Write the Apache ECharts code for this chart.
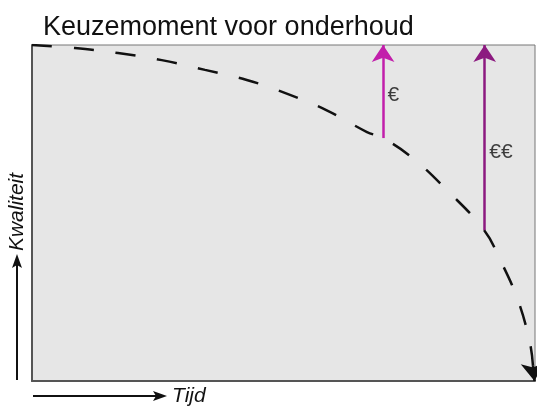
<!DOCTYPE html>
<html><head><meta charset="utf-8">
<script src="https://cdn.jsdelivr.net/npm/echarts@6/dist/echarts.min.js"></script>
<style>html,body{margin:0;padding:0;background:#fff}#c{width:537px;height:408px}</style>
</head><body><div id="c"></div>
<script>
var titleText = 'Keuzemoment voor onderhoud';
var xAxisName = 'Tijd';
var yAxisName = 'Kwaliteit';
// degradation curve (x = time, y = quality), 0..100
var curveX = [0, 8.5, 17.1, 25.8, 34.4, 42.7, 50.9, 58.8, 66.6, 69.8, 75.9, 82.5, 89.9, 93.0, 96.6, 99.0, 99.6];
var curveY = [100, 99.1, 97.6, 95.5, 92.6, 89.6, 85.4, 80.4, 74.1, 72.3, 66.1, 56.8, 44.9, 36.3, 24.1, 11.3, 4.5];
var curveEnd = [99.9, 0];
// maintenance moments: x position, curve value (start), label and label height
var momentX = [69.8, 90.0];
var momentY = [72.3, 44.9];
var momentLabelY = [85, 68];
var momentLabels = ['€', '€€'];
var momentColors = ['#c21fab', '#8c1a80'];

var chart = echarts.init(document.getElementById('c'));
var curveData = curveX.map(function (x, i) { return [x, curveY[i]]; });
var arrows = momentX.map(function (x, i) {
  return {
    coords: [[x, momentY[i]], [x, 100]],
    lineStyle: { color: momentColors[i], width: 2.5, opacity: 1 }
  };
});
chart.setOption({
  animation: false,
  title: {
    text: titleText, left: 38, top: 9,
    textStyle: { fontFamily: 'Liberation Sans', fontWeight: 'normal', fontSize: 27, color: '#111' }
  },
  grid: {
    left: 32, right: 2, top: 45, bottom: 27,
    show: true, backgroundColor: '#e6e6e6', borderColor: '#777', borderWidth: 1
  },
  xAxis: {
    type: 'value', min: 0, max: 100,
    axisLine: { show: true, lineStyle: { color: '#555', width: 2 } },
    axisTick: { show: false }, axisLabel: { show: false }, splitLine: { show: false }
  },
  yAxis: {
    type: 'value', min: 0, max: 100,
    axisLine: { show: true, lineStyle: { color: '#555', width: 2 } },
    axisTick: { show: false }, axisLabel: { show: false }, splitLine: { show: false }
  },
  series: [
    {
      type: 'line', data: curveData, smooth: 0.4, showSymbol: false,
      lineStyle: { color: '#111', width: 2.5, type: [20, 22] },
      z: 3
    },
    {
      type: 'lines', coordinateSystem: 'cartesian2d',
      data: [{ coords: [curveData[curveData.length - 1], curveEnd] }],
      symbol: ['none', 'arrow'], symbolSize: [12, 18],
      lineStyle: { color: '#111', width: 2.5, opacity: 1 }, z: 4
    },
    {
      type: 'lines', coordinateSystem: 'cartesian2d',
      data: arrows, symbol: ['none', 'arrow'], symbolSize: [13, 17], z: 5
    },
    {
      type: 'scatter', symbolSize: 1,
      data: momentX.map(function (x, i) { return [x, momentLabelY[i]]; }),
      itemStyle: { color: 'rgba(0,0,0,0)' },
      label: {
        show: true, position: 'right', distance: 4,
        formatter: function (p) { return momentLabels[p.dataIndex]; },
        fontFamily: 'Liberation Sans', fontSize: 21, color: '#111'
      }, z: 6
    }
  ],
  graphic: [
    { type: 'line', shape: { x1: 17, y1: 380, x2: 17, y2: 264 }, style: { stroke: '#111', lineWidth: 2 } },
    { type: 'polygon', shape: { points: [[17, 254], [12, 268], [17, 265], [22, 268]] }, style: { fill: '#111' } },
    { type: 'text', x: 17, y: 212, rotation: Math.PI / 2, style: { text: yAxisName, font: 'italic 21px Liberation Sans', fill: '#111', align: 'center', verticalAlign: 'middle' } },
    { type: 'line', shape: { x1: 33, y1: 396, x2: 157, y2: 396 }, style: { stroke: '#111', lineWidth: 2 } },
    { type: 'polygon', shape: { points: [[167, 396], [153, 391], [156, 396], [153, 401]] }, style: { fill: '#111' } },
    { type: 'text', x: 172, y: 396, style: { text: xAxisName, font: 'italic 21px Liberation Sans', fill: '#111', align: 'left', verticalAlign: 'middle' } }
  ]
});
</script></body></html>
